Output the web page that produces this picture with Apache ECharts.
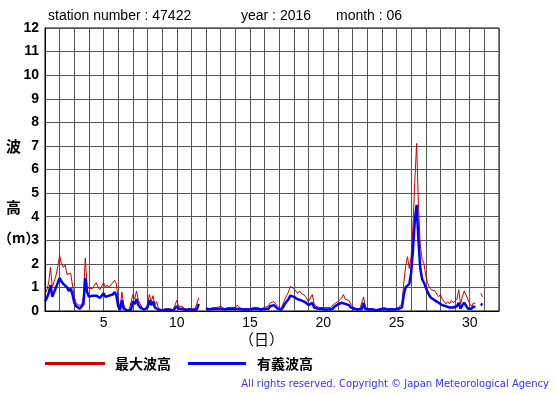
<!DOCTYPE html>
<html><head><meta charset="utf-8">
<script src="https://cdn.jsdelivr.net/npm/echarts@6/dist/echarts.min.js"></script>
<style>html,body{margin:0;padding:0;background:#fff}#c{width:555px;height:395px}</style>
</head><body><div id="c"></div>
<script>
// 3-hourly samples, 8 per day, starting at day 1 00:00 (June 2016, station 47422)
const stepsPerDay = 8;
const maxWave = [
  0.7,0.9,1.2,1.85,1.0,1.25,1.5,1.9,
  2.35,2.0,1.85,1.95,1.55,1.55,1.6,1.1,
  0.6,0.35,0.25,0.2,0.25,0.6,2.25,1.1,
  0.95,1.0,0.95,1.1,1.2,1.0,0.9,0.85,
  1.2,1.0,1.1,1.0,1.1,1.1,1.3,1.15,
  0.45,0.1,0.8,0.25,0.05,0.05,0.05,0.1,
  0.7,0.5,0.85,0.45,0.3,0.15,0.1,0.05,
  0.3,0.7,0.4,0.65,0.25,0.4,0.1,0.05,
  0.05,0.05,0.1,0.05,0.1,0.05,0.05,0.05,
  0.45,0.2,0.15,0.2,0.1,0.05,0.1,0.15,
  0.1,0.05,0.1,0.15,0.55,null,null,null,
  0.15,0.15,0.1,0.15,0.15,0.1,0.15,0.15,
  0.2,0.15,0.1,0.1,0.15,0.1,0.15,0.1,
  0.15,0.25,0.15,0.1,0.1,0.15,0.1,0.05,
  0.1,0.1,0.15,0.1,0.15,0.1,0.1,0.15,
  0.15,0.1,0.2,0.35,0.3,0.4,0.3,0.2,
  0.15,0.1,0.3,0.5,0.65,0.8,1.05,1.1,
  0.95,0.85,0.75,0.85,0.75,0.7,0.65,0.6,
  0.4,0.35,0.7,0.3,0.2,0.2,0.15,0.15,
  0.15,0.1,0.15,0.1,0.15,0.15,0.3,0.25,
  0.4,0.45,0.55,0.7,0.5,0.55,0.45,0.3,
  0.2,0.15,0.1,0.1,0.1,0.15,0.6,0.15,
  0.15,0.1,0.15,0.1,0.1,0.05,0.1,0.1,
  0.1,0.15,0.1,0.1,0.05,0.1,0.15,0.1,
  0.1,0.15,0.1,0.3,1.2,1.9,2.3,1.8,
  2.3,3.6,5.5,7.1,4.5,2.8,2.2,2.0,
  1.5,1.2,1.0,0.9,0.95,0.85,0.9,0.6,
  0.7,0.5,0.45,0.3,0.4,0.3,0.45,0.35,
  0.3,0.5,0.9,0.3,0.6,0.85,0.9,0.5,
  0.3,0.2,0.35,0.3,null,null,0.75,0.6
];
const sigWave = [
  0.4,0.55,0.75,1.1,0.6,0.8,1.0,1.2,
  1.4,1.25,1.15,1.2,1.0,0.85,0.95,0.7,
  0.35,0.2,0.15,0.1,0.12,0.3,1.4,0.8,
  0.6,0.6,0.65,0.7,0.65,0.6,0.55,0.5,
  0.75,0.6,0.65,0.65,0.7,0.7,0.8,0.65,
  0.2,0.05,0.45,0.1,0.02,0.02,0.02,0.05,
  0.4,0.3,0.5,0.25,0.15,0.08,0.05,0.02,
  0.15,0.45,0.25,0.4,0.15,0.2,0.05,0.02,
  0.02,0.02,0.05,0.02,0.05,0.02,0.02,0.02,
  0.2,0.1,0.08,0.1,0.05,0.02,0.05,0.08,
  0.05,0.02,0.05,0.08,0.3,null,null,null,
  0.08,0.08,0.06,0.08,0.08,0.06,0.08,0.08,
  0.1,0.08,0.06,0.06,0.08,0.06,0.08,0.06,
  0.08,0.12,0.08,0.06,0.06,0.08,0.06,0.03,
  0.06,0.06,0.08,0.06,0.08,0.06,0.06,0.08,
  0.08,0.06,0.1,0.2,0.18,0.25,0.18,0.1,
  0.08,0.06,0.15,0.3,0.4,0.5,0.65,0.7,
  0.6,0.55,0.5,0.5,0.45,0.4,0.38,0.35,
  0.25,0.2,0.35,0.15,0.12,0.1,0.08,0.08,
  0.08,0.06,0.08,0.06,0.08,0.08,0.18,0.15,
  0.28,0.3,0.35,0.4,0.3,0.32,0.25,0.15,
  0.1,0.08,0.06,0.06,0.06,0.08,0.35,0.08,
  0.08,0.06,0.08,0.06,0.06,0.03,0.06,0.06,
  0.06,0.08,0.06,0.06,0.03,0.06,0.08,0.06,
  0.06,0.08,0.06,0.15,0.7,1.0,1.0,1.15,
  1.6,2.6,3.8,4.5,3.0,1.8,1.35,1.2,
  1.0,0.8,0.65,0.55,0.5,0.45,0.4,0.35,
  0.3,0.25,0.2,0.2,0.2,0.15,0.2,0.15,
  0.12,0.2,0.35,0.1,0.25,0.35,0.3,0.1,
  0.05,0.1,0.2,0.15,null,null,0.3,0.25
];
const xTickLabels = [5,10,15,20,25,30];
const seriesNames = ['最大波高','有義波高'];
const titleParts = ['station number : 47422','year : 2016','month : 06'];

const toPairs = arr => arr.map((v,i) => [1 + i/stepsPerDay, v]);

const chart = echarts.init(document.getElementById('c'), null, {renderer:'canvas'});
const txt = (x,y,s,extra) => ({type:'text', x, y, style:Object.assign({text:s, fill:'#000', font:'14px "Liberation Sans", Arial, sans-serif', textVerticalAlign:'middle'}, extra||{})});
chart.setOption({
  animation:false,
  backgroundColor:'#fff',
  grid:{left:45, top:28, width:454, height:283, show:true, borderColor:'#000', borderWidth:1, backgroundColor:'transparent'},
  xAxis:{type:'value', min:1, max:32, interval:1,
    axisLine:{show:true, lineStyle:{color:'#000', width:1}}, axisTick:{show:false},
    splitLine:{show:true, lineStyle:{color:'#555', width:1}},
    axisLabel:{color:'#000', fontSize:14, fontFamily:'"Liberation Sans", Arial, sans-serif', margin:5,
      formatter:v => xTickLabels.includes(Math.round(v)) && Math.abs(v-Math.round(v))<1e-6 ? String(Math.round(v)) : ''}},
  yAxis:{type:'value', min:0, max:12, interval:1,
    axisLine:{show:true, lineStyle:{color:'#000', width:1}}, axisTick:{show:false},
    splitLine:{show:true, lineStyle:{color:'#555', width:1}},
    axisLabel:{color:'#000', fontSize:14, fontWeight:'bold', fontFamily:'"Liberation Sans", Arial, sans-serif', margin:6}},
  series:[
    {name:seriesNames[0], type:'line', data:toPairs(maxWave), showSymbol:false, symbol:'none', connectNulls:false,
      lineStyle:{color:'#cc0000', width:1}, itemStyle:{color:'#cc0000'}, z:2},
    {name:seriesNames[1], type:'line', data:toPairs(sigWave), showSymbol:false, symbol:'none', connectNulls:false,
      lineStyle:{color:'#0000ff', width:2.5}, itemStyle:{color:'#0000ff'}, z:3}
  ],
  graphic:[
    txt(48,16,titleParts[0]),
    txt(241,16,titleParts[1]),
    txt(336,16,titleParts[2]),
    txt(6,146,'波',{font:'bold 15px "Noto Sans CJK JP", sans-serif'}),
    txt(6,207,'高',{font:'bold 15px "Noto Sans CJK JP", sans-serif'}),
    txt(-2,238,'（m）',{font:'bold 14px "Noto Sans CJK JP", sans-serif'}),
    txt(239,339,'（日）',{font:'15px "Noto Sans CJK JP", sans-serif'}),
    {type:'rect', shape:{x:45, y:362, width:60, height:3}, style:{fill:'#cc0000'}},
    txt(115,364,seriesNames[0],{font:'bold 14px "Noto Sans CJK JP", sans-serif'}),
    {type:'rect', shape:{x:188, y:362, width:58, height:3}, style:{fill:'#0000ff'}},
    txt(257,364,seriesNames[1],{font:'bold 14px "Noto Sans CJK JP", sans-serif'}),
    txt(549,384,'All rights reserved. Copyright © Japan Meteorological Agency',
      {font:'10px "DejaVu Sans", sans-serif', fill:'#3333ff', textAlign:'right'})
  ]
});
</script></body></html>
